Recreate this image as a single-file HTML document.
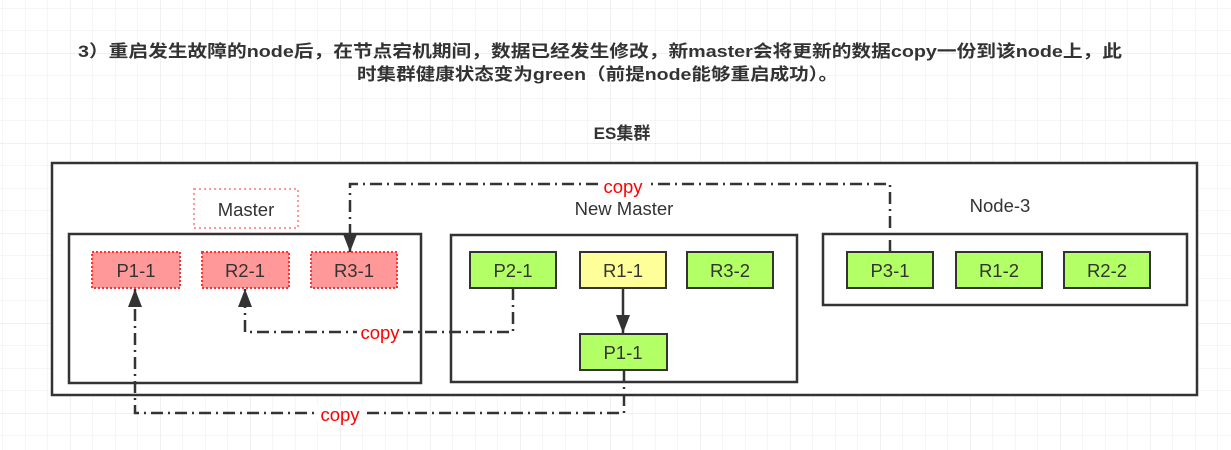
<!DOCTYPE html>
<html><head><meta charset="utf-8"><style>
html,body{margin:0;padding:0;background:#fff;}
svg{display:block;}
</style></head><body>
<svg width="1231" height="450" viewBox="0 0 1231 450" xmlns="http://www.w3.org/2000/svg" font-family="Liberation Sans, Noto Sans CJK SC, sans-serif">
<defs>
<pattern id="g" x="2.5" y="8" width="22.5" height="22.5" patternUnits="userSpaceOnUse">
<path d="M0 0H22.5M0 0V22.5" stroke="#ececec" stroke-width="1" fill="none"/>
</pattern>
<pattern id="G" x="70" y="53" width="90" height="90" patternUnits="userSpaceOnUse">
<path d="M0 0H90M0 0V90" stroke="#e2e2e2" stroke-width="1" fill="none"/>
</pattern>
<marker id="a" markerWidth="18" markerHeight="14" refX="18" refY="7" orient="auto" markerUnits="userSpaceOnUse" viewBox="0 0 18 14">
<path d="M0 0L18 7L0 14z" fill="#333"/>
</marker>
</defs>
<rect width="1231" height="450" fill="url(#g)"/>
<rect width="1231" height="450" fill="url(#G)"/>
<g font-weight="bold" font-size="17" fill="#333">
<text x="78" y="57" textLength="1044" lengthAdjust="spacingAndGlyphs">3）重启发生故障的node后，在节点宕机期间，数据已经发生修改，新master会将更新的数据copy一份到该node上，此</text>
<text x="357" y="80" textLength="481" lengthAdjust="spacingAndGlyphs">时集群健康状态变为green（前提node能够重启成功）。</text>
<text x="622" y="139" font-size="17" text-anchor="middle">ES集群</text>
</g>
<g stroke="#333" stroke-width="2.5" fill="#fff">
<rect x="52" y="163" width="1145" height="232"/>
<rect x="69" y="234" width="352" height="149"/>
<rect x="451" y="235" width="346" height="147"/>
<rect x="823" y="234" width="364" height="71"/>
</g>
<rect x="194" y="189" width="104" height="39" fill="#fff" stroke="#f99" stroke-width="2" stroke-dasharray="2 3"/>
<g font-size="18.5" fill="#333" text-anchor="middle">
<text x="246" y="216">Master</text>
<text x="624" y="215">New Master</text>
<text x="1000" y="212">Node-3</text>
</g>
<g stroke="#ff3333" stroke-width="2" stroke-dasharray="2 2" fill="#ff9999">
<rect x="92" y="252" width="88" height="36"/>
<rect x="202" y="252" width="87" height="36"/>
<rect x="311" y="252" width="86" height="36"/>
</g>
<g stroke="#333" stroke-width="2">
<rect x="470" y="252" width="86" height="36" fill="#b3ff66"/>
<rect x="580" y="252" width="86" height="36" fill="#ffff99"/>
<rect x="687" y="252" width="86" height="36" fill="#b3ff66"/>
<rect x="580" y="334" width="87" height="36" fill="#b3ff66"/>
<rect x="847" y="252" width="86" height="36" fill="#b3ff66"/>
<rect x="956" y="252" width="86" height="36" fill="#b3ff66"/>
<rect x="1064" y="252" width="86" height="36" fill="#b3ff66"/>
</g>
<g font-size="18.5" fill="#333" text-anchor="middle">
<text x="136" y="277">P1-1</text>
<text x="245" y="277">R2-1</text>
<text x="354" y="277">R3-1</text>
<text x="513" y="277">P2-1</text>
<text x="623" y="277">R1-1</text>
<text x="730" y="277">R3-2</text>
<text x="623" y="359">P1-1</text>
<text x="890" y="277">P3-1</text>
<text x="999" y="277">R1-2</text>
<text x="1107" y="277">R2-2</text>
</g>
<g stroke="#333" stroke-width="2.5" fill="none" stroke-dasharray="12 5 2 5">
<path d="M890 252V184H350V252" marker-end="url(#a)"/>
<path d="M513 288V332H245V289" marker-end="url(#a)"/>
<path d="M624 370V413H135V289" marker-end="url(#a)"/>
</g>
<path d="M623 288V333" stroke="#333" stroke-width="2.5" marker-end="url(#a)"/>
<g font-size="18.5" fill="#f00" text-anchor="middle">
<rect x="600" y="177" width="46" height="14" fill="#fff"/>
<text x="623" y="193">copy</text>
<rect x="357" y="326" width="46" height="14" fill="#fff"/>
<text x="380" y="339">copy</text>
<rect x="317" y="406" width="46" height="14" fill="#fff"/>
<text x="340" y="421">copy</text>
</g>
</svg>
</body></html>
